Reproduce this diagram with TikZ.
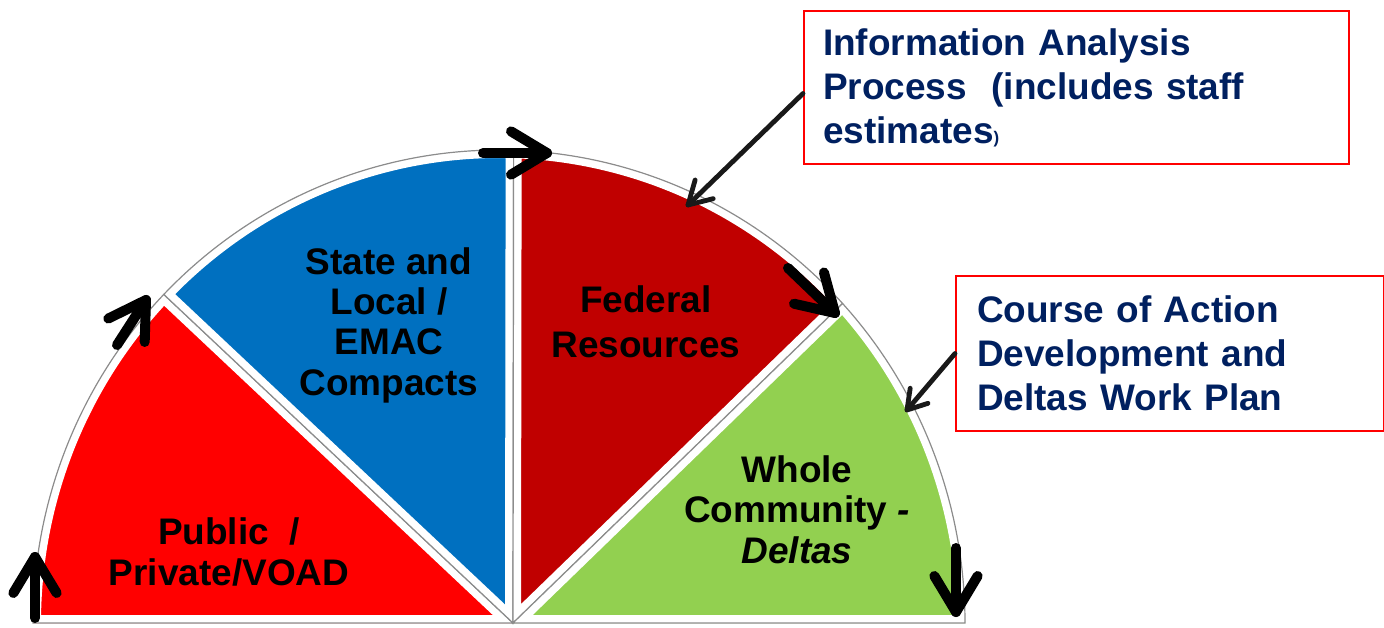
\documentclass[tikz,border=0pt]{standalone}
\usepackage{fontspec}
\setmainfont{Liberation Sans}
\usetikzlibrary{calc}

\definecolor{pubred}{HTML}{FF0000}
\definecolor{stateblue}{HTML}{0070C0}
\definecolor{fedred}{HTML}{C00000}
\definecolor{wholegreen}{HTML}{92D050}
\definecolor{navy}{HTML}{002060}
\definecolor{rim}{HTML}{8C8C8C}

\tikzset{
  wedgerim/.style={draw=rim, line width=0.3mm},
  bigarrow/.style={draw=black, line width=2.5mm, line cap=round, line join=round},
  callout/.style={draw=black!90, line width=1.2mm, line cap=round, line join=round},
  wedgetext/.style={font=\bfseries\fontsize{26.3}{28.5}\selectfont, align=center, anchor=base, inner sep=0pt},
  notebox/.style={draw=pubred, line width=0.5mm, text=navy, align=left, anchor=north west,
    font=\bfseries\fontsize{26.3}{31.3}\selectfont}
}

\begin{document}
\begin{tikzpicture}[x=0.25mm,y=0.25mm]
\useasboundingbox (0,0) rectangle (1384,-628);
\coordinate (ctr) at (499,-623);
\coordinate (apex) at (513,-623);
\foreach \ta/\tb/\col in {180/136/pubred, 136/88.2/stateblue, 88.2/42.5/fedred, 42.5/0/wholegreen} {
  \begin{scope}
    \clip (apex) -- ($(ctr)+(\ta:466 and 473)$) arc[start angle=\ta, end angle=\tb, x radius=466, y radius=473] -- cycle;
    \filldraw[fill=\col, draw=white, line width=4mm] (apex) -- ($(ctr)+(\ta:466 and 473)$) arc[start angle=\ta, end angle=\tb, x radius=466, y radius=473] -- cycle;
  \end{scope}
  \draw[wedgerim] (apex) -- ($(ctr)+(\ta:466 and 473)$) arc[start angle=\ta, end angle=\tb, x radius=466, y radius=473] -- cycle;
}

% labels sit on the baseline of their last line
\node[wedgetext] (pub) at (229,-585) {Public\ \ /\\Private/VOAD};
\node[wedgetext] (state) at (389,-395) {State and\\Local /\\EMAC\\Compacts};
\node[wedgetext, font=\bfseries\fontsize{26.3}{31.3}\selectfont] (fed) at (646,-357) {Federal\\Resources};
\node[wedgetext] (whole) at (797,-563) {Whole\\Community \textit{-}\\\textit{Deltas}};

% arrows round the rim, heads drawn as chevrons
\coordinate (a1) at (35,-618);  \coordinate (a1e) at (35,-557);
\coordinate (a2) at (117,-345); \coordinate (a2e) at (146,-300);
\coordinate (a3) at (483,-153); \coordinate (a3e) at (547,-153);
\coordinate (a4) at (788,-268); \coordinate (a4e) at (835,-313);
\coordinate (a5) at (956,-548); \coordinate (a5e) at (956,-612);
\foreach \s/\e in {a1/a1e, a2/a2e, a3/a3e, a4/a4e, a5/a5e} {
  \draw[bigarrow] (\s) -- (\e);
  \draw[bigarrow] ($(\e)!10.5mm!31:(\s)$) -- (\e) -- ($(\e)!10.5mm!-31:(\s)$);
}

\node[notebox, text width=126.75mm, inner xsep=4.75mm, minimum height=38.25mm] (info) at (803,-10)
  {Information Analysis\\Process~ (includes staff\\estimates{\fontsize{12}{12}\selectfont)}};
\node[notebox, text width=96.5mm, inner xsep=5.25mm, minimum height=38.75mm] (coa) at (955,-275)
  {Course of Action\\Development and\\Deltas Work Plan};

\coordinate (infofoot) at ([yshift=-1.5mm]info.west);
\coordinate (infotip) at (688,-205);
\coordinate (coatip) at (907,-410);
\draw[callout] (infofoot) -- (infotip);
\draw[callout] ($(infotip)!6.5mm!30:(infofoot)$) -- (infotip) -- ($(infotip)!6.5mm!-30:(infofoot)$);
\draw[callout] (coa.west) -- (coatip);
\draw[callout] ($(coatip)!5.5mm!32:(coa.west)$) -- (coatip) -- ($(coatip)!5.5mm!-32:(coa.west)$);
\end{tikzpicture}
\end{document}
